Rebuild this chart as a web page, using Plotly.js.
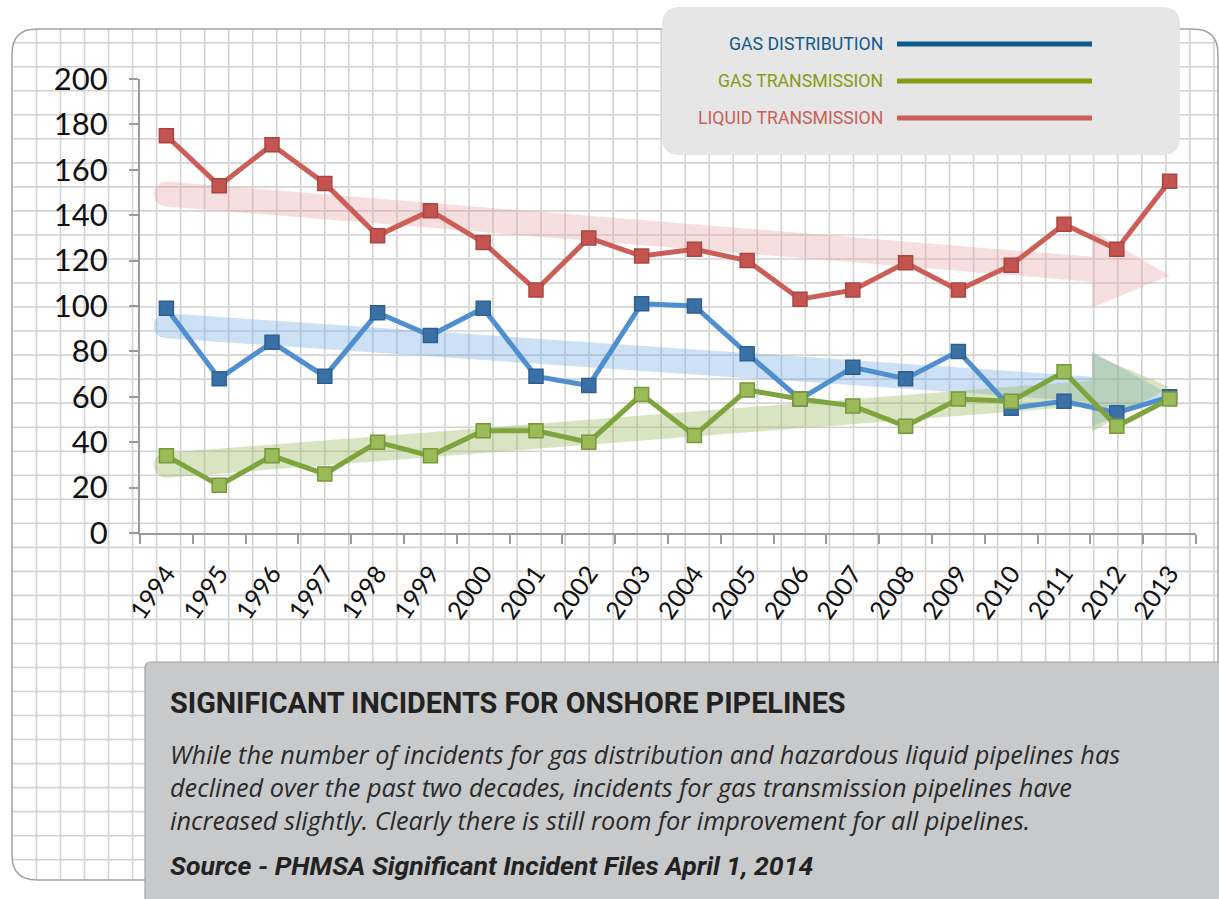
<!DOCTYPE html>
<html>
<head>
<meta charset="utf-8">
<script src="https://cdn.plot.ly/plotly-3.0.1.min.js"></script>
<style>
html,body{margin:0;padding:0;background:#ffffff;}
#chart{width:1219px;height:899px;}
</style>
</head>
<body>
<div id="chart"></div>
<script>
// ---------------- DATA ----------------
const years = [1994,1995,1996,1997,1998,1999,2000,2001,2002,2003,2004,2005,2006,2007,2008,2009,2010,2011,2012,2013];
const gasDistribution    = [99,68,84,69,97,87,99,69,65,101,100,79,59,73,68,80,55,58,53,60];
const gasTransmission    = [34,21,34,26,40,34,45,45,40,61,43,63,59,56,47,59,58,71,47,59];
const liquidTransmission = [175,153,171,154,131,142,128,107,130,122,125,120,103,107,119,107,118,136,125,155];
const seriesNames = ['GAS DISTRIBUTION','GAS TRANSMISSION','LIQUID TRANSMISSION'];
const yTicks = [0,20,40,60,80,100,120,140,160,180,200];
const captionTitle = 'SIGNIFICANT INCIDENTS FOR ONSHORE PIPELINES';
const captionLines = [
  'While the number of incidents for gas distribution and hazardous liquid pipelines has',
  'declined over the past two decades, incidents for gas transmission pipelines have',
  'increased slightly. Clearly there is still room for improvement for all pipelines.'
];
const captionSource = 'Source - PHMSA Significant Incident Files April 1, 2014';

// ---------------- GEOMETRY HELPERS ----------------
const W = 1219, H = 899, ML = 140, MR = 23, MT = 79, MB = 366;
const PW = W - ML - MR, PH = H - MT - MB;
const PX = px => (px - ML) / PW;
const PY = py => (H - MB - py) / PH;

function rrPath(x0, y0, x1, y1, r) {
  const p = (x, y) => PX(x).toFixed(5) + ',' + PY(y).toFixed(5);
  return 'M' + p(x0 + r, y0) + ' L' + p(x1 - r, y0) + ' Q' + p(x1, y0) + ' ' + p(x1, y0 + r) +
         ' L' + p(x1, y1 - r) + ' Q' + p(x1, y1) + ' ' + p(x1 - r, y1) +
         ' L' + p(x0 + r, y1) + ' Q' + p(x0, y1) + ' ' + p(x0, y1 - r) +
         ' L' + p(x0, y0 + r) + ' Q' + p(x0, y0) + ' ' + p(x0 + r, y0) + ' Z';
}

// linear least-squares trend of a series
function linFit(xs, ys) {
  const n = xs.length;
  const mx = xs.reduce((a, b) => a + b, 0) / n;
  const my = ys.reduce((a, b) => a + b, 0) / n;
  let sxy = 0, sxx = 0;
  for (let i = 0; i < n; i++) { sxy += (xs[i] - mx) * (ys[i] - my); sxx += (xs[i] - mx) ** 2; }
  const b = sxy / sxx;
  return x => my + b * (x - mx);
}

// broad trend arrow polygon following the fitted line
function trendArrow(f, halfBody, halfHead) {
  const x0 = years[0], xTip = years[years.length - 1];
  const xBase = xTip - 1.47;
  const rx = 0.24;
  const xs = [], ys = [];
  xs.push(x0, xBase, xBase, xTip, xBase, xBase, x0);
  ys.push(f(x0) + halfBody, f(xBase) + halfBody, f(xBase) + halfHead, f(xTip),
          f(xBase) - halfHead, f(xBase) - halfBody, f(x0) - halfBody);
  for (let k = 1; k < 12; k++) {
    const t = (270 - k * 15) * Math.PI / 180;
    xs.push(x0 + rx * Math.cos(t));
    ys.push(f(x0) + halfBody * Math.sin(t));
  }
  xs.push(x0); ys.push(f(x0) + halfBody);
  return {xs, ys};
}

// ---------------- TRACES ----------------
const colors = {
  blue:  {line: '#4f8fd0', marker: '#3b70a6', edge: '#2f5f90', legend: '#0f5a8c', arrow: 'rgba(110,170,225,0.35)'},
  green: {line: '#7ea43e', marker: '#9bbb59', edge: '#76983a', legend: '#8a9a14', arrow: 'rgba(150,180,90,0.36)'},
  red:   {line: '#cc5e58', marker: '#c4544f', edge: '#aa4541', legend: '#c85f59', arrow: 'rgba(230,150,150,0.30)'}
};

const arrowSpecs = [
  {ys: liquidTransmission, c: colors.red,   body: 5.5, head: 17},
  {ys: gasDistribution,    c: colors.blue,  body: 5.5, head: 16.5},
  {ys: gasTransmission,    c: colors.green, body: 5.5, head: 17.2}
];
const traces = [];
arrowSpecs.forEach(s => {
  const a = trendArrow(linFit(years, s.ys), s.body, s.head);
  traces.push({x: a.xs, y: a.ys, type: 'scatter', mode: 'lines', fill: 'toself',
    fillcolor: s.c.arrow, line: {width: 0, color: 'rgba(0,0,0,0)'}, hoverinfo: 'skip', showlegend: false});
});

const lineSpecs = [
  {name: seriesNames[2], ys: liquidTransmission, c: colors.red},
  {name: seriesNames[0], ys: gasDistribution,    c: colors.blue},
  {name: seriesNames[1], ys: gasTransmission,    c: colors.green}
];
lineSpecs.forEach(s => {
  traces.push({x: years, y: s.ys, name: s.name, type: 'scatter', mode: 'lines+markers',
    line: {color: s.c.line, width: 5},
    marker: {symbol: 'square', size: 14, color: s.c.marker, line: {color: s.c.edge, width: 1.5}},
    showlegend: false});
});

// ---------------- SHAPES (card, grid, boxes) ----------------
const shapes = [];
const card = {x0: 12, y0: 29, x1: 1218, y1: 880, r: 25};
const gridColor = '#d3d3d3';
function cornerInset(d, r) {
  if (d >= r) return 0;
  return r - Math.sqrt(Math.max(0, r * r - (r - d) * (r - d)));
}
for (let gx = 12.4 + 24.03; gx < card.x1 - 1; gx += 24.03) {
  const d = Math.min(gx - card.x0, card.x1 - gx);
  const ins = cornerInset(d, card.r);
  shapes.push({type: 'line', xref: 'paper', yref: 'paper', layer: 'below',
    x0: PX(gx), x1: PX(gx), y0: PY(card.y0 + ins), y1: PY(card.y1 - ins),
    line: {color: gridColor, width: 1.6}});
}
for (let gy = 42.7; gy < card.y1 - 1; gy += 24.03) {
  const d = Math.min(gy - card.y0, card.y1 - gy);
  const ins = cornerInset(d, card.r);
  shapes.push({type: 'line', xref: 'paper', yref: 'paper', layer: 'below',
    x0: PX(card.x0 + ins), x1: PX(card.x1 - ins), y0: PY(gy), y1: PY(gy),
    line: {color: gridColor, width: 1.6}});
}
shapes.push({type: 'path', xref: 'paper', yref: 'paper', layer: 'below',
  path: rrPath(card.x0, card.y0, card.x1, card.y1, card.r), line: {color: '#a3a3a3', width: 1.5}});
shapes.push({type: 'path', xref: 'paper', yref: 'paper', layer: 'below',
  path: rrPath(662, 7, 1180, 155, 18), fillcolor: '#e6e6e6', line: {width: 0}});
shapes.push({type: 'path', xref: 'paper', yref: 'paper', layer: 'below',
  path: rrPath(145, 662, 1232, 915, 6), fillcolor: '#c8c9cb', line: {color: '#a2a2a4', width: 1.2}});

// legend
const legendRows = [
  {name: seriesNames[0], c: colors.blue,  y: 44},
  {name: seriesNames[1], c: colors.green, y: 81},
  {name: seriesNames[2], c: colors.red,   y: 118}
];
const condensed = 'Roboto, "Liberation Sans", Arial, sans-serif';
const annotations = [];
legendRows.forEach(r => {
  shapes.push({type: 'line', xref: 'paper', yref: 'paper', layer: 'below',
    x0: PX(897), x1: PX(1092), y0: PY(r.y), y1: PY(r.y), line: {color: r.c.legend, width: 5}});
  annotations.push({text: r.name, xref: 'paper', yref: 'paper', x: PX(885), y: PY(r.y),
    xanchor: 'right', yanchor: 'middle', showarrow: false,
    font: {family: condensed, size: 17.7, color: r.c.legend}});
});

// caption texts
annotations.push({text: '<b>' + captionTitle + '</b>', xref: 'paper', yref: 'paper',
  x: PX(168), y: PY(703), xanchor: 'left', yanchor: 'middle', showarrow: false,
  font: {family: condensed, size: 28.8, color: '#222222'}});
annotations.push({text: captionLines.map(t => '<i>' + t + '</i>').join('<br>'), xref: 'paper', yref: 'paper',
  x: PX(168), y: PY(787), xanchor: 'left', yanchor: 'middle', align: 'left', showarrow: false,
  font: {family: '"Open Sans", "Liberation Sans", sans-serif', size: 25.3, color: '#2a2a2a'}});
annotations.push({text: '<b><i>' + captionSource + '</i></b>', xref: 'paper', yref: 'paper',
  x: PX(168), y: PY(865), xanchor: 'left', yanchor: 'middle', showarrow: false,
  font: {family: condensed, size: 26.6, color: '#222222'}});

// ---------------- LAYOUT ----------------
const boundaries = [];
for (let i = 0; i <= years.length; i++) boundaries.push(years[0] - 0.5 + i);

const layout = {
  width: W, height: H,
  margin: {l: ML, r: MR, t: MT, b: MB, pad: 0},
  paper_bgcolor: '#ffffff',
  plot_bgcolor: 'rgba(0,0,0,0)',
  showlegend: false,
  xaxis: {
    type: 'linear', range: [years[0] - 0.5, years[years.length - 1] + 0.5],
    tickmode: 'array', tickvals: years, ticktext: years.map(String),
    ticks: '', tickangle: -55, showgrid: false, zeroline: false,
    showline: true, linecolor: '#9a9a9a', linewidth: 2,
    tickfont: {family: 'Lato, "Open Sans", sans-serif', size: 25, color: '#111111'},
    ticklabelstandoff: 14,
    minor: {tickmode: 'array', tickvals: boundaries, ticks: 'outside', ticklen: 9, tickwidth: 2, tickcolor: '#9a9a9a', showgrid: false}
  },
  yaxis: {
    range: [0, 200], tickmode: 'array', tickvals: yTicks,
    ticks: 'outside', ticklen: 9, tickwidth: 2, tickcolor: '#9a9a9a',
    showgrid: false, zeroline: false, showline: true, linecolor: '#9a9a9a', linewidth: 2,
    tickfont: {family: 'Lato, "Open Sans", sans-serif', size: 31, color: '#111111'},
    ticklabelstandoff: 15
  },
  shapes: shapes,
  annotations: annotations
};

Plotly.newPlot('chart', traces, layout, {displayModeBar: false, staticPlot: true});
</script>
</body>
</html>
